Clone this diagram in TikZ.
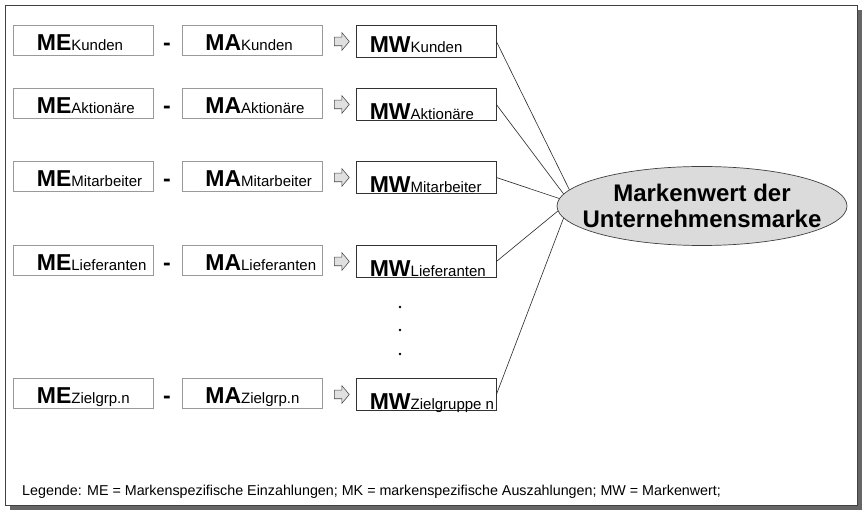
\documentclass[tikz,border=0pt]{standalone}
\usepackage{fontspec}
\setmainfont{Liberation Sans}
\usetikzlibrary{shapes.geometric, shapes.arrows}

\newcommand{\kuerzel}[2]{{\fontsize{23}{26}\selectfont\bfseries #1}{\fontsize{15}{18}\selectfont #2}}

\begin{document}
\begin{tikzpicture}[x=1pt, y=-1pt]
  \tikzstyle{thinbox}=[draw=black!40, line width=0.7pt, minimum width=140pt, minimum height=30pt, inner sep=0pt]
  \tikzstyle{mwbox}=[draw=black!80, line width=0.8pt, minimum width=140pt, minimum height=32pt, inner sep=0pt]
  \tikzstyle{txt}=[inner sep=0pt, anchor=base west]
  \tikzstyle{hollow}=[single arrow, draw=black!70, fill=black!12, line width=0.6pt, minimum height=15pt, inner xsep=0pt, inner ysep=4pt, single arrow head extend=4.5pt, single arrow tip angle=100]
  \tikzstyle{dot}=[circle, fill=black, inner sep=0pt, minimum size=2.8pt]
  \tikzstyle{link}=[draw=black!85, line width=0.6pt]

  \useasboundingbox (0,0) rectangle (862,510);
  \fill[black!60] (10,505) rectangle (862,510); % bottom shadow
  \fill[black!60] (857,10) rectangle (862,510); % right shadow
  \draw[black!75, line width=1pt, fill=white] (5,6) rectangle (857,505); % frame

  \node[ellipse, draw=black!75, fill=black!14, line width=0.7pt, minimum width=290pt, minimum height=79pt, inner sep=0pt] (Ell) at (702,206) {};
  \node[align=center, inner sep=0pt, font=\fontsize{24}{26}\selectfont\bfseries] (EllText) at (Ell.center) {Markenwert der\\Unternehmensmarke};

  \foreach \i/\y/\sub/\full/\d/\a in {1/40.5/Kunden/Kunden/5/173.6, 2/103.5/Aktionäre/Aktionäre/1/175, 3/176.5/Mitarbeiter/Mitarbeiter/1/177.6, 4/260.5/Lieferanten/Lieferanten/1/182.4, 5/393.5/Zielgrp.n/Zielgruppe n/1/185.8} {
    \node[thinbox] (ME\i) at (83,\y) {};
    \node[thinbox] (MA\i) at (252.5,\y) {};
    \node[mwbox] (MW\i) at (426,\y+1) {};
    \node[txt] (MEt\i) at ([xshift=24pt, yshift=5pt]ME\i.south west) {\kuerzel{ME}{\sub}};
    \node[txt] (MAt\i) at ([xshift=23pt, yshift=5pt]MA\i.south west) {\kuerzel{MA}{\sub}};
    \node[txt] (MWt\i) at ([xshift=14pt, yshift=\d pt]MW\i.south west) {\kuerzel{MW}{\full}};
    \node[anchor=base, inner sep=0pt, font=\fontsize{23}{26}\selectfont\bfseries] (Minus\i) at (167,\y+10) {-};
    \node[hollow] (Pfeil\i) at (340,\y+1) {};
    \draw[link] (MW\i.east) -- (Ell.\a); % to the ellipse
  }

  \foreach \j/\y in {1/307, 2/330, 3/354}
    \node[dot] (D\j) at (400,\y) {};

  \node[anchor=base west, inner sep=0pt, font=\fontsize{14.3}{16}\selectfont] (Leg) at (22,495) {Legende: ME = Markenspezifische Einzahlungen; MK = markenspezifische Auszahlungen; MW = Markenwert;};
\end{tikzpicture}
\end{document}
